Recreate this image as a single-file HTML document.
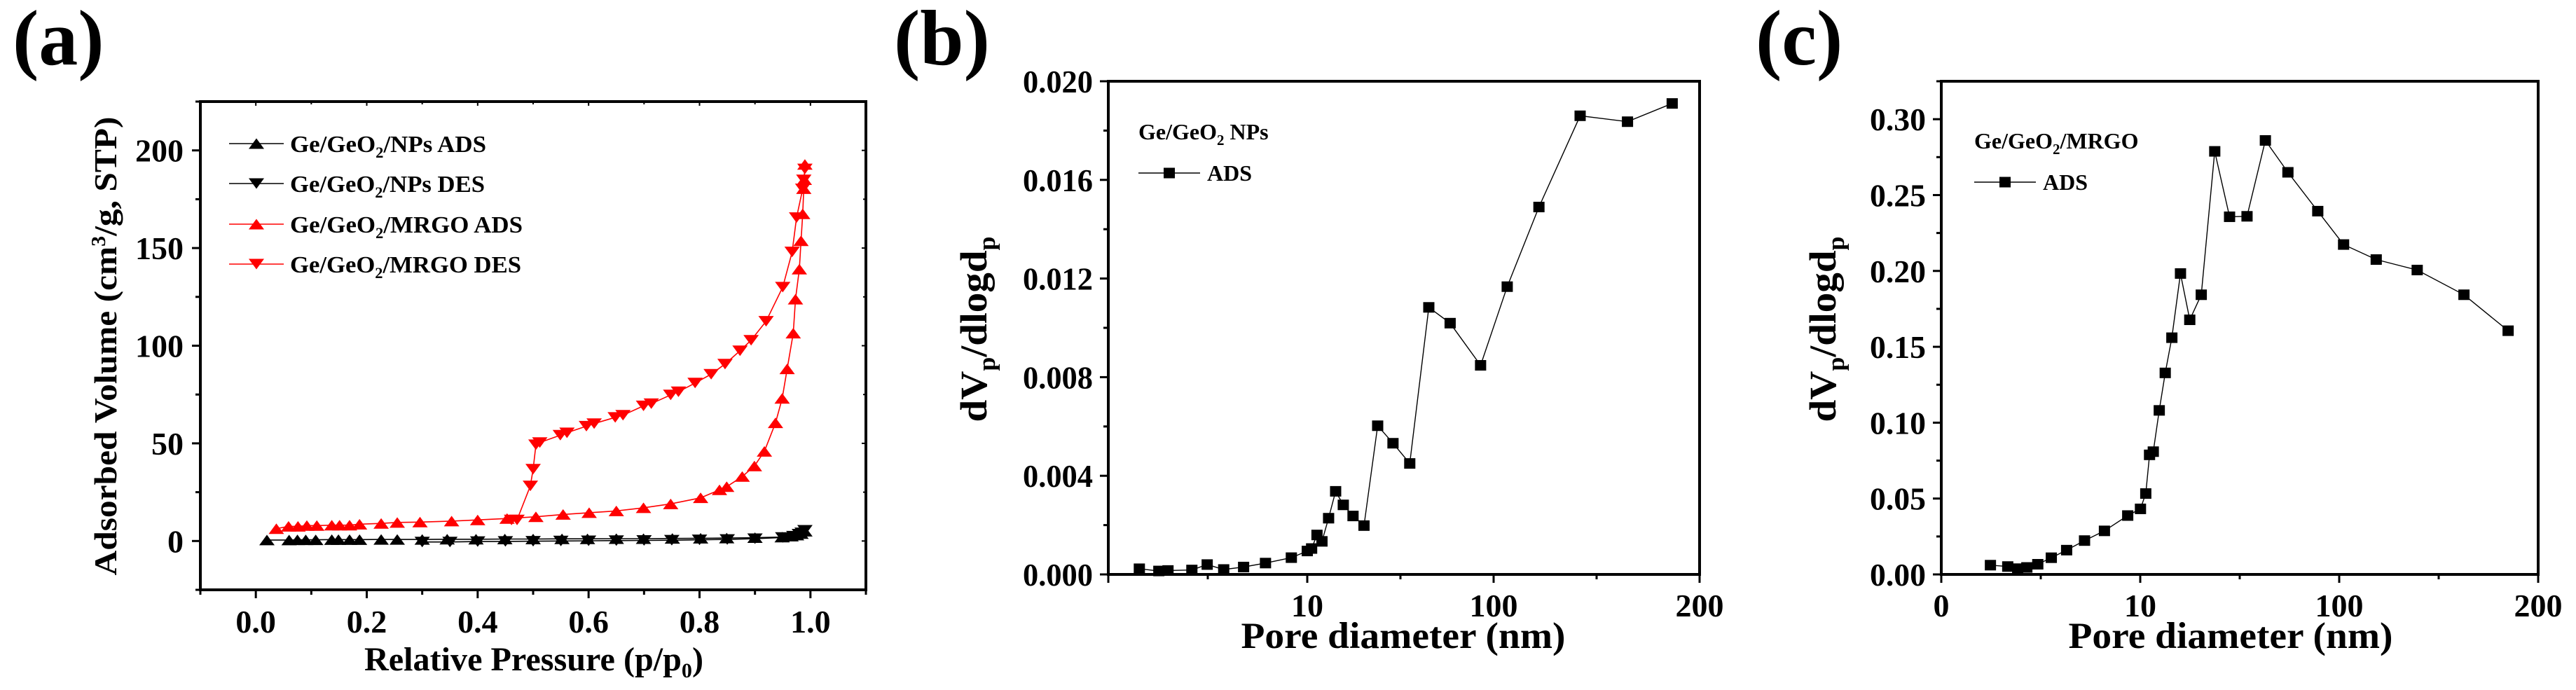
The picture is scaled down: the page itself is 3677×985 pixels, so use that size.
<!DOCTYPE html>
<html><head><meta charset="utf-8"><title>Ge/GeO2 adsorption and pore size distribution</title>
<style>
html,body{margin:0;padding:0;background:#fff;}
svg{display:block;font-family:"Liberation Serif","DejaVu Serif",serif;font-weight:bold;}
</style></head>
<body>
<svg id="fig" xmlns="http://www.w3.org/2000/svg" width="3677" height="985" viewBox="0 0 3677 985">
<g id="pa"></g>
<g id="pb"></g>
<g id="pc"></g>
</svg>
<script>
// ---------- Panel (a) data ----------
const aBlackAdsX = [0.02,0.06,0.075,0.09,0.108,0.137,0.149,0.169,0.187,0.226,0.255,0.30,0.345,0.397,0.449,0.50,0.552,0.598,0.65,0.699,0.751,0.802,0.849,0.90,0.949,0.965,0.975,0.983,0.99];
const aBlackAdsY = [0.5,0.5,0.6,0.6,0.6,0.7,0.7,0.7,0.7,0.8,0.8,0.8,0.9,0.9,1.0,1.0,1.1,1.1,1.2,1.2,1.3,1.4,1.5,1.7,2.0,2.5,3.0,3.8,5.0];
const aBlackDesX = [0.99,0.985,0.98,0.97,0.95,0.90,0.85,0.80,0.75,0.70,0.65,0.60,0.55,0.50,0.45,0.40,0.35,0.30];
const aBlackDesY = [5.5,4.2,3.5,2.5,1.8,1.2,0.8,0.6,0.4,0.3,0.2,0.1,0.0,-0.1,-0.2,-0.3,-0.5,-0.5];
const aRedAdsX = [0.037,0.059,0.076,0.092,0.110,0.137,0.151,0.169,0.187,0.226,0.255,0.296,0.353,0.400,0.453,0.505,0.554,0.601,0.650,0.699,0.748,0.802,0.836,0.849,0.877,0.899,0.917,0.937,0.949,0.958,0.969,0.973,0.980,0.983,0.986,0.988,0.989,0.990];
const aRedAdsY = [6.3,7.5,7.5,7.9,7.9,8.1,8.1,8.1,8.6,9.0,9.5,9.7,10.2,10.8,11.5,12.4,13.6,14.5,15.4,17.0,19.0,22.1,26.2,27.8,33.0,38.4,45.9,60.5,73.0,88.1,106.4,123.8,139.2,153.7,167.5,180.4,185.0,192.8];
const aRedDesX = [0.990,0.988,0.986,0.975,0.967,0.950,0.920,0.893,0.873,0.846,0.821,0.792,0.762,0.748,0.713,0.699,0.662,0.648,0.610,0.596,0.561,0.549,0.512,0.505,0.500,0.495,0.471,0.461];
const aRedDesY = [190.5,184.9,180.3,165.6,148.0,130.0,112.5,102.8,97.4,90.6,85.4,80.9,76.4,74.8,70.3,69.2,64.4,63.3,60.1,58.8,55.4,54.2,50.4,49.3,36.8,28.2,10.8,10.8];
const aXTicks = [0.0,0.2,0.4,0.6,0.8,1.0];
const aXTickLabels = ["0.0","0.2","0.4","0.6","0.8","1.0"];
const aYTicks = [0,50,100,150,200];
const aYTickLabels = ["0","50","100","150","200"];

// ---------- Panel (b) data ----------
const bX = [1.56,2.54,3.0,4.2,4.97,5.8,6.8,7.9,9.2,10.0,12.1,14.7,17.1,20.3,23.7,27.4,32.1,37.4,44,51.4,59.5,68.7,79,93.7,106.6,122,142,165,186.7];
const bY = [0.00023,0.00014,0.00016,0.00018,0.0004,0.0002,0.0003,0.00046,0.00068,0.00095,0.00105,0.0016,0.00134,0.00228,0.00337,0.00282,0.00237,0.00198,0.00603,0.00532,0.0045,0.01083,0.01019,0.00848,0.01167,0.0149,0.0186,0.01836,0.0191];
const bYTicks = [0,0.004,0.008,0.012,0.016,0.020];
const bYTickLabels = ["0.000","0.004","0.008","0.012","0.016","0.020"];
const bXTicks = [10,100,200];
const bXTickLabels = ["10","100","200"];

// ---------- Panel (c) data ----------
const cX = [2.47,3.34,3.84,4.3,4.85,5.53,6.3,7.2,8.2,9.37,10.1,12.5,14.2,15.9,18.6,21.3,24.3,28.2,32.4,37.6,43.7,50.4,58.3,66.6,76.8,90.3,102.2,118.6,139.2,162.7,184.9];
const cY = [0.0061,0.0052,0.0038,0.0046,0.0067,0.011,0.016,0.0223,0.0287,0.0388,0.0432,0.0533,0.0788,0.0809,0.1081,0.1328,0.156,0.1983,0.1678,0.1843,0.2788,0.2357,0.236,0.286,0.265,0.2394,0.2174,0.2075,0.2006,0.1843,0.1606];
const cYTicks = [0,0.05,0.10,0.15,0.20,0.25,0.30];
const cYTickLabels = ["0.00","0.05","0.10","0.15","0.20","0.25","0.30"];
const cXTicks = [0,10,100,200];
const cXTickLabels = ["0","10","100","200"];

const NS = "http://www.w3.org/2000/svg";
function mk(parent, tag, attrs, text){
  const e = document.createElementNS(NS, tag);
  for (const k in attrs) e.setAttribute(k, attrs[k]);
  if (text !== undefined) e.textContent = text;
  parent.appendChild(e);
  return e;
}
function lin(d0,d1,p0,p1){ return v => p0 + (v-d0)/(d1-d0)*(p1-p0); }
function piece(breaks, pix){
  return v => {
    for (let i=0;i<breaks.length-1;i++){
      if (v<=breaks[i+1] || i===breaks.length-2){
        return pix[i] + (v-breaks[i])/(breaks[i+1]-breaks[i])*(pix[i+1]-pix[i]);
      }
    }
  };
}
function triUp(g,x,y,s,fill){
  const h=15;
  return mk(g,"polygon",{points:`${x-s/2},${y+h/2} ${x+s/2},${y+h/2} ${x},${y-h/2}`,fill:fill});
}
function triDown(g,x,y,s,fill){
  const h=15;
  return mk(g,"polygon",{points:`${x-s/2},${y-h/2} ${x+s/2},${y-h/2} ${x},${y+h/2}`,fill:fill});
}
function frame(g,L,T,R,B){
  const f = mk(g,"rect",{x:L,y:T,width:R-L,height:B-T,fill:"none",stroke:"#000","stroke-width":4});
  
  
}
function polyline(g, xs, ys, sx, sy, color, w){
  const pts = xs.map((v,i)=>`${sx(v).toFixed(1)},${sy(ys[i]).toFixed(1)}`).join(" ");
  return mk(g,"polyline",{points:pts,fill:"none",stroke:color,"stroke-width":w||1.6});
}

// ================= Panel (a) =================
(function(){
  const g = document.getElementById("pa");
  const L=286,R=1236,T=145,B=842;
  const sx = lin(-0.1,1.1,L,R), sy = lin(-25,225,B,T);
  const lbl = mk(g,"text",{x:18,y:92,"font-size":112},"(a)");
  
  
  frame(g,L,T,R,B);
  const ax = mk(g,"g",{});
  
  
  for (let v=-0.1; v<=1.1001; v+=0.1){
    const major = Math.abs(Math.round(v*10)%2)===0;
    mk(ax,"line",{x1:sx(v),x2:sx(v),y1:B,y2:B+(major?12:7),stroke:"#000","stroke-width":3});
    mk(ax,"line",{x1:sx(v),x2:sx(v),y1:T,y2:T+(major?6:4),stroke:"#000","stroke-width":2});
  }
  aXTicks.forEach((v,i)=>{
    const t = mk(ax,"text",{x:sx(v),y:903,"font-size":46,"text-anchor":"middle"},aXTickLabels[i]);
    
    
  });
  const xt = mk(g,"text",{x:762,y:957,"font-size":48,"text-anchor":"middle",textLength:484,lengthAdjust:"spacingAndGlyphs"});
  
  
  xt.innerHTML = 'Relative Pressure (p/p<tspan font-size="30" dy="10">0</tspan><tspan dy="-10">)</tspan>';
  const ay = mk(g,"g",{});
  
  
  for (let v=-25; v<=225; v+=25){
    const major = (v%50)===0;
    mk(ay,"line",{x1:L,x2:L-(major?12:7),y1:sy(v),y2:sy(v),stroke:"#000","stroke-width":3});
    mk(ay,"line",{x1:R,x2:R-(major?6:4),y1:sy(v),y2:sy(v),stroke:"#000","stroke-width":2});
  }
  aYTicks.forEach((v,i)=>{
    const t = mk(ay,"text",{x:262,y:sy(v)+16,"font-size":46,"text-anchor":"end"},aYTickLabels[i]);
    
    
  });
  const yt = mk(g,"text",{x:0,y:0,"font-size":46,"text-anchor":"middle",transform:"translate(166,494) rotate(-90)",textLength:655,lengthAdjust:"spacingAndGlyphs"});
  
  
  yt.innerHTML = 'Adsorbed Volume (cm<tspan font-size="28" dy="-16">3</tspan><tspan dy="16">/g, STP)</tspan>';

  const s1 = mk(g,"g",{});  
  polyline(s1,aBlackAdsX,aBlackAdsY,sx,sy,"#000");
  aBlackAdsX.forEach((v,i)=>{ const m=triUp(s1,sx(v),sy(aBlackAdsY[i]),22,"#000");   });
  const s2 = mk(g,"g",{});  
  polyline(s2,aBlackDesX,aBlackDesY,sx,sy,"#000");
  aBlackDesX.forEach((v,i)=>{ const m=triDown(s2,sx(v),sy(aBlackDesY[i]),22,"#000");   });
  const s3 = mk(g,"g",{});  
  polyline(s3,aRedAdsX,aRedAdsY,sx,sy,"#f00");
  aRedAdsX.forEach((v,i)=>{ const m=triUp(s3,sx(v),sy(aRedAdsY[i]),22,"#f00");   });
  const s4 = mk(g,"g",{});  
  polyline(s4,aRedDesX,aRedDesY,sx,sy,"#f00");
  aRedDesX.forEach((v,i)=>{ const m=triDown(s4,sx(v),sy(aRedDesY[i]),22,"#f00");   });

  const lg = mk(g,"g",{});  
  const entries = [["Ge/GeO","/NPs ADS","#000",1],["Ge/GeO","/NPs DES","#000",0],["Ge/GeO","/MRGO ADS","#f00",1],["Ge/GeO","/MRGO DES","#f00",0]];
  const rows=[205,262,320,377], widths=[280,278,332,330];
  entries.forEach((e,i)=>{
    const en = mk(lg,"g",{});  
    mk(en,"line",{x1:327,x2:405,y1:rows[i],y2:rows[i],stroke:e[2],"stroke-width":1.6});
    if (e[3]) triUp(en,366,rows[i],22,e[2]); else triDown(en,366,rows[i],22,e[2]);
    const t = mk(en,"text",{x:414,y:rows[i]+12,"font-size":34,textLength:widths[i],lengthAdjust:"spacingAndGlyphs"});
    t.innerHTML = e[0]+'<tspan font-size="22" dy="8">2</tspan><tspan dy="-8">'+e[1]+'</tspan>';
  });
})();

// ============ Panels (b) & (c) shared builder ============
function psd(g, cfg){
  const {L,R,T,B,xPix,yMax,yMinorStep,xs,ys,yTicks,yTickLabels,xTicks,xTickLabels,label,labelX,legendTitle,legendX,legendY,titleX,ytX,yTitleLen} = cfg;
  const sx = piece([0,10,100,200], xPix), sy = lin(0,yMax,B,T);
  const lbl = mk(g,"text",{x:labelX,y:92,"font-size":112},label);
  
  
  frame(g,L,T,R,B);
  const ax = mk(g,"g",{});  
  [0,10,100,200].forEach(v=>mk(ax,"line",{x1:sx(v),x2:sx(v),y1:B,y2:B+12,stroke:"#000","stroke-width":3}));
  [5,55,150].forEach(v=>mk(ax,"line",{x1:sx(v),x2:sx(v),y1:B,y2:B+7,stroke:"#000","stroke-width":3}));
  xTicks.forEach((v,i)=>{
    const t = mk(ax,"text",{x:sx(v),y:880,"font-size":46,"text-anchor":"middle"},xTickLabels[i]);
     
  });
  const xt = mk(g,"text",{x:titleX,y:925,"font-size":53,"text-anchor":"middle",textLength:463,lengthAdjust:"spacingAndGlyphs"},"Pore diameter (nm)");
   
  const ay = mk(g,"g",{});  
  for (let k=0; k*yMinorStep<=yMax+1e-9; k++){
    const v=k*yMinorStep, major=(k%2===0);
    mk(ay,"line",{x1:L,x2:L-(major?12:7),y1:sy(v),y2:sy(v),stroke:"#000","stroke-width":3});
  }
  yTicks.forEach((v,i)=>{
    const t = mk(ay,"text",{x:L-22,y:sy(v)+16,"font-size":46,"text-anchor":"end",textLength:yTickLabels[i].length*20,lengthAdjust:"spacingAndGlyphs"},yTickLabels[i]);
     
  });
  const yt = mk(g,"text",{x:0,y:0,"font-size":54,"text-anchor":"middle",transform:`translate(${ytX},470) rotate(-90)`,textLength:yTitleLen,lengthAdjust:"spacingAndGlyphs"});
   
  yt.innerHTML = 'dV<tspan font-size="34" dy="12">p</tspan><tspan dy="-12">/dlogd</tspan><tspan font-size="34" dy="12">p</tspan>';
  const s = mk(g,"g",{});  
  polyline(s,xs,ys,sx,sy,"#000",1.4);
  xs.forEach((v,i)=>{
    const m = mk(s,"rect",{x:sx(v)-8,y:sy(ys[i])-7.5,width:16,height:15,fill:"#000"});
     
  });
  const lg = mk(g,"g",{});  
  const lt = mk(lg,"text",{x:legendX,y:legendY,"font-size":32});
  lt.innerHTML = legendTitle;
  const ry = legendY+59;
  mk(lg,"line",{x1:legendX,x2:legendX+88,y1:ry-11,y2:ry-11,stroke:"#000","stroke-width":1.4});
  mk(lg,"rect",{x:legendX+36,y:ry-18.5,width:16,height:15,fill:"#000"});
  mk(lg,"text",{x:legendX+98,y:ry,"font-size":32},"ADS");
}

psd(document.getElementById("pb"),{
  L:1582,R:2426,T:116,B:820,xPix:[1582,1866,2132,2426],yMax:0.020,yMinorStep:0.002,
  xs:bX,ys:bY,yTicks:bYTicks,yTickLabels:bYTickLabels,xTicks:bXTicks,xTickLabels:bXTickLabels,
  label:"(b)",labelX:1276,legendTitle:'Ge/GeO<tspan font-size="21" dy="8">2</tspan><tspan dy="-8"> NPs</tspan>',
  legendX:1625,legendY:199,titleX:2003,ytX:1408,yTitleLen:265
});
psd(document.getElementById("pc"),{
  L:2771,R:3623,T:116,B:820,xPix:[2771,3055,3339,3623],yMax:0.325,yMinorStep:0.025,
  xs:cX,ys:cY,yTicks:cYTicks,yTickLabels:cYTickLabels,xTicks:cXTicks,xTickLabels:cXTickLabels,
  label:"(c)",labelX:2506,legendTitle:'Ge/GeO<tspan font-size="21" dy="8">2</tspan><tspan dy="-8">/MRGO</tspan>',
  legendX:2818,legendY:212,titleX:3184,ytX:2620,yTitleLen:265
});
</script>
</body></html>
